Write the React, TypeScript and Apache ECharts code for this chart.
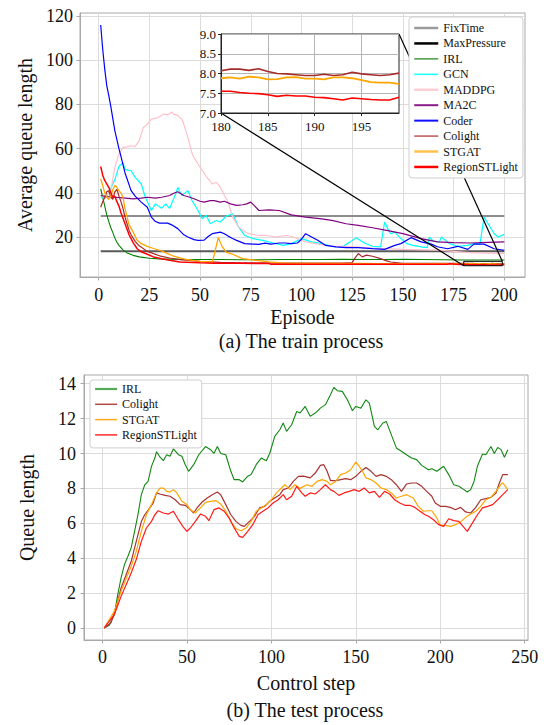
import React, { useEffect, useRef } from "react";
import * as echarts from "echarts";

const FONT = "Liberation Serif";

// ---------- (a) train process ----------
const trainXTicks = [0, 25, 50, 75, 100, 125, 150, 175, 200];
const trainYTicks = [20, 40, 60, 80, 100, 120];

const fixTime = [[1, 29.5], [200, 29.5]];
const maxPressure = [[1, 13.6], [200, 13.6]];
const irlTrain = [[1, 41.8], [2, 38], [3, 34], [4, 30], [5, 27], [6, 24.2], [7, 22], [8, 19.5], [9, 17.6], [10, 16.2], [12, 14.2], [14, 12.8], [17, 11.7], [20, 11], [25, 10.4], [30, 10.1], [40, 9.9], [50, 9.8], [60, 9.8], [70, 9.7], [80, 9.7], [90, 9.8], [100, 9.8], [110, 9.8], [120, 9.9], [130, 9.8], [140, 9.8], [150, 9.9], [160, 9.8], [170, 9.7], [180, 9.6], [190, 9.6], [200, 9.6]];
const gcnTrain = [[1, 38], [3, 37.5], [5, 40], [8, 46], [10, 52], [12, 53.6], [13, 50.6], [16, 50], [18, 47], [21, 44], [23, 38], [26, 32], [28, 35], [31, 33], [33, 35], [35, 33], [38, 39.6], [39, 42.5], [41, 38.8], [44, 41], [46, 36.5], [49, 32], [51, 28.3], [53, 29.8], [55, 26], [58, 27.5], [60, 26.8], [63, 29.5], [66, 30.5], [69, 24.5], [72, 20.7], [76, 19.3], [81, 18.5], [86, 17.3], [91, 16.2], [95, 17], [100, 19.3], [105, 17.8], [110, 17], [115, 15.8], [120, 15.5], [124, 17.8], [127, 19.7], [131, 17.3], [135, 15.8], [139, 15.5], [141, 26.8], [143, 23], [144, 21.5], [146, 22.2], [149, 19.3], [152, 17], [155, 16.2], [159, 15.5], [162, 15.2], [163, 20], [165, 18.1], [168, 17.8], [169, 20], [173, 17], [177, 15.8], [182, 16.2], [185, 17], [188, 16.8], [190, 29], [192, 26], [195, 21.5], [197, 20], [200, 21.2]];
const maddpgTrain = [[1, 38], [4, 39], [6, 41], [8, 51.5], [10, 57.6], [12, 60.6], [14, 60.8], [16, 61.3], [18, 61], [20, 63.6], [22, 69.6], [24, 71], [26, 73.4], [29, 74], [32, 75.6], [34, 75.4], [35, 75.8], [36, 76.6], [37, 75.5], [39, 75.2], [40, 74], [41, 73.4], [42, 71], [44, 65], [46, 58], [47, 56], [50, 51.6], [53, 47.5], [56, 44], [58, 44.8], [60, 42.5], [62, 38.8], [64, 35.5], [66, 29], [69, 24.5], [72, 22.5], [74, 21.5], [79, 20.7], [83, 20.7], [87, 20], [93, 20.7], [96, 20], [102, 17.8], [109, 16.7], [115, 15.8], [122, 15.8], [135, 15], [150, 14.4], [167, 14.1], [183, 12.9], [200, 12.5]];
const ma2cTrain = [[1, 38.8], [4, 38.3], [8, 38], [12, 37.7], [17, 37.3], [21, 37.6], [24, 38], [28, 37.6], [31, 38], [35, 38.8], [37, 39.8], [39, 40.5], [42, 38.8], [45, 38], [47, 37.3], [50, 36.2], [52, 35.8], [55, 36.5], [57, 36.5], [60, 35.8], [62, 36.2], [65, 35], [68, 34.3], [71, 34.6], [73, 35], [75, 35.8], [77, 34], [79, 32], [84, 32.3], [89, 32], [95, 30], [102, 29], [109, 28.3], [115, 27.5], [122, 26], [128, 25.3], [135, 24.2], [142, 23], [150, 21.5], [159, 19.3], [167, 17.8], [175, 17.5], [183, 17.3], [192, 17.6], [200, 17.8]];
const coderTrain = [[1, 116], [2, 105], [3, 96], [4, 88.5], [5, 84], [6, 79], [8, 68], [10, 60], [11, 56.5], [13, 49], [16, 41], [18, 38.5], [21, 35.8], [24, 33.5], [26, 29], [28, 27], [30, 26.3], [34, 26.3], [36, 25.5], [39, 23.8], [42, 21], [44, 20], [47, 18.8], [49, 18.5], [52, 18.6], [54, 20.2], [56, 21.5], [58, 21.9], [60, 22.2], [62, 21.5], [64, 20.3], [66, 19.3], [68, 18.5], [72, 17], [76, 16.8], [79, 16.7], [82, 17.2], [85, 16.8], [89, 17.3], [92, 17.3], [95, 17], [98, 17.3], [100, 19], [102, 21.5], [105, 20], [108, 18.5], [112, 16.2], [117, 15.5], [122, 15.2], [128, 15.2], [135, 14.7], [141, 14.4], [146, 16.2], [149, 17], [154, 19.7], [159, 17.8], [164, 16.8], [167, 15.6], [172, 14.7], [177, 15.8], [182, 14.4], [185, 16.8], [190, 16.8], [195, 14.7], [200, 14]];
const colightTrainHead = [[1, 33.5], [2, 36], [3, 38], [4, 40.5], [5, 41], [6, 38], [7, 37], [8, 40.5], [9, 41.5], [10, 38.5], [11, 36], [12, 33], [13, 29], [14, 26], [15, 23], [16, 21], [18, 18], [20, 16], [24, 13.5], [30, 11.5], [35, 10.5], [40, 9.8], [50, 9], [60, 8.5], [70, 8.3], [80, 8.3], [90, 8.2], [100, 8.2], [110, 8.2], [120, 8.2], [125, 8.4], [126, 10], [128, 12.5], [130, 11], [132, 11.8], [135, 11.3], [139, 10.2], [142, 9.2], [144, 8.7], [150, 8.1], [160, 8.1], [170, 8.1], [178, 8.1]];
const stgatTrainHead = [[1, 46.3], [2, 43.3], [3, 40], [4, 38], [5, 37], [6, 38.5], [7, 41.5], [8, 43.3], [9, 42.5], [10, 41], [11, 40], [12, 38], [13, 33], [14, 29], [15, 25.5], [17, 22.2], [19, 18.5], [21, 17], [24, 15.8], [27, 14.8], [31, 13.7], [34, 12.5], [37, 11.3], [41, 10.3], [44, 9.7], [50, 9], [56, 8.7], [57, 12], [58, 16], [59, 19.8], [60, 17.5], [61, 15.5], [63, 13], [66, 12.2], [71, 10.2], [77, 9.5], [84, 8.7], [90, 8.3], [100, 8.1], [110, 8], [120, 8], [130, 8], [140, 7.9], [150, 7.9], [160, 7.9], [170, 7.9], [178, 7.9]];
const regionTrainHead = [[1, 51.9], [2, 48], [3, 45.6], [4, 44], [5, 42.5], [6, 40], [7, 38], [8, 38.5], [9, 36], [10, 34], [11, 31], [12, 28.5], [13, 26], [14, 23.5], [15, 21], [16, 19.3], [17, 17.5], [19, 14.7], [21, 13.3], [24, 12.2], [27, 11], [31, 10.2], [35, 9.5], [40, 8.7], [50, 8.3], [57, 8.1], [70, 8.1], [84, 8], [85, 7.7], [100, 7.7], [120, 7.7], [140, 7.7], [160, 7.7], [172, 7.7], [173, 7.9], [178, 7.6]];

// zoomed region of the train process (inset)
const insetEpisodes = [180, 181, 182, 183, 184, 185, 186, 187, 188, 189, 190, 191, 192, 193, 194, 195, 196, 197, 198, 199];
const colightInset = [8.07, 8.11, 8.11, 8.08, 8.12, 8.05, 8.0, 7.99, 7.97, 7.95, 7.95, 7.98, 7.95, 7.97, 8.03, 7.99, 7.97, 7.95, 7.97, 8.01];
const stgatInset = [7.88, 7.9, 7.87, 7.92, 7.9, 7.85, 7.86, 7.9, 7.91, 7.87, 7.87, 7.85, 7.9, 7.9, 7.88, 7.83, 7.78, 7.77, 7.77, 7.74];
const regionInset = [7.55, 7.55, 7.52, 7.5, 7.49, 7.46, 7.42, 7.45, 7.43, 7.43, 7.4, 7.39, 7.36, 7.33, 7.38, 7.36, 7.34, 7.33, 7.33, 7.4];
const insetXTicks = [180, 185, 190, 195];
const colightLast = [[200, 8.02]];
const stgatLast = [[200, 7.74]];
const regionLast = [[200, 7.42]];

// ---------- (b) test process ----------
const testXTicks = [0, 50, 100, 150, 200, 250];
const testYTicks = [0, 2, 4, 6, 8, 10, 12, 14];
const irlTest = [[1, 0], [4, 0.15], [7, 0.76], [9, 1.9], [11, 2.87], [13, 3.63], [15, 4.1], [17, 4.6], [19, 5.54], [21, 6.5], [23, 7.64], [25, 8.2], [27, 8.4], [29, 9.26], [31, 9.74], [32, 10.1], [34, 9.8], [36, 9.59], [38, 9.93], [40, 9.84], [42, 10.27], [45, 9.93], [47, 9.84], [49, 9.36], [51, 8.98], [54, 9.36], [57, 9.93], [61, 10.4], [64, 10.22], [66, 10.0], [68, 10.4], [70, 10.0], [73, 9.93], [76, 8.98], [78, 8.5], [81, 8.5], [83, 8.37], [86, 8.7], [88, 8.79], [91, 9.36], [94, 9.74], [97, 9.59], [99, 10.0], [102, 10.98], [105, 11.36], [107, 11.75], [109, 11.27], [112, 11.65], [115, 12.41], [117, 12.32], [120, 12.7], [123, 12.13], [126, 12.32], [129, 12.6], [132, 12.8], [135, 13.37], [137, 13.79], [139, 13.6], [142, 13.56], [145, 13.08], [148, 12.45], [150, 12.7], [153, 12.6], [156, 13.08], [158, 12.89], [161, 11.55], [163, 11.36], [166, 11.75], [168, 11.84], [171, 11.08], [174, 10.32], [177, 10.13], [180, 9.93], [183, 9.74], [186, 9.65], [189, 9.32], [193, 9.07], [195, 9.13], [198, 8.98], [202, 9.27], [205, 8.79], [208, 8.21], [211, 8.12], [214, 7.93], [216, 7.79], [218, 7.93], [220, 8.4], [222, 9.27], [225, 9.97], [227, 9.93], [230, 10.4], [232, 10.0], [234, 10.35], [236, 10.22], [238, 9.78], [240, 10.22]];
const colightTest = [[1, 0], [5, 0.3], [8, 1.15], [11, 2.29], [14, 3.05], [17, 3.82], [20, 4.96], [23, 6.1], [25, 6.49], [28, 6.88], [30, 7.16], [32, 7.74], [34, 7.68], [37, 7.6], [40, 7.55], [43, 7.35], [46, 7.07], [49, 7.03], [51, 6.88], [54, 6.59], [56, 6.88], [59, 7.22], [62, 7.45], [65, 7.64], [68, 7.79], [70, 7.64], [73, 7.07], [76, 6.49], [79, 6.11], [82, 5.88], [84, 5.82], [87, 6.11], [90, 6.4], [93, 6.88], [96, 6.97], [99, 7.26], [102, 7.45], [105, 7.64], [107, 7.93], [110, 8.02], [113, 8.4], [116, 8.69], [119, 8.7], [123, 8.6], [126, 8.88], [129, 9.32], [131, 9.36], [133, 8.98], [135, 8.45], [138, 8.45], [141, 8.5], [144, 8.56], [147, 8.5], [150, 8.69], [153, 8.98], [156, 9.2], [159, 8.98], [162, 8.69], [165, 8.79], [168, 8.69], [171, 8.5], [174, 8.21], [177, 7.83], [180, 8.25], [183, 8.31], [186, 8.31], [189, 8.12], [192, 7.83], [195, 7.55], [197, 7.16], [200, 6.97], [203, 6.97], [206, 6.91], [209, 6.78], [212, 6.91], [215, 6.65], [218, 6.59], [221, 6.91], [224, 7.35], [227, 7.41], [230, 7.49], [233, 7.74], [235, 8.31], [237, 8.79], [240, 8.79]];
const stgatTest = [[1, 0], [7, 0.95], [11, 2.1], [14, 2.83], [17, 3.54], [20, 4.39], [23, 5.54], [26, 6.49], [29, 7.07], [32, 7.74], [34, 8.02], [36, 8.02], [38, 7.83], [40, 7.79], [42, 7.93], [44, 7.74], [47, 7.26], [50, 7.07], [52, 6.78], [55, 6.59], [58, 6.88], [61, 7.2], [64, 7.26], [67, 7.3], [70, 7.11], [73, 6.69], [76, 6.11], [79, 5.69], [82, 5.57], [85, 5.73], [88, 6.11], [91, 6.69], [94, 6.88], [97, 7.07], [100, 7.35], [103, 7.74], [106, 8.02], [108, 8.21], [111, 7.93], [114, 8.21], [117, 8.0], [121, 8.21], [124, 8.12], [127, 8.4], [130, 8.5], [133, 8.4], [135, 8.21], [138, 8.4], [141, 8.79], [144, 8.88], [147, 9.07], [150, 9.51], [152, 9.27], [154, 8.98], [156, 8.6], [159, 8.5], [162, 8.31], [165, 8.02], [168, 7.93], [171, 7.74], [174, 7.45], [177, 7.55], [180, 7.64], [184, 7.45], [187, 6.97], [190, 6.69], [193, 6.72], [195, 6.72], [198, 6.3], [200, 5.88], [203, 5.88], [206, 5.82], [209, 5.92], [212, 6.07], [215, 6.34], [218, 6.53], [221, 6.69], [224, 6.97], [227, 7.35], [230, 7.49], [233, 7.83], [236, 8.25], [237, 8.31], [240, 7.93]];
const regionTest = [[1, 0], [7, 0.76], [11, 1.81], [14, 2.48], [17, 3.15], [20, 3.92], [23, 4.96], [26, 5.73], [29, 6.11], [31, 6.49], [33, 6.72], [36, 6.59], [39, 6.53], [42, 6.69], [45, 6.2], [48, 5.76], [50, 5.54], [52, 5.73], [55, 6.11], [58, 6.53], [61, 6.4], [63, 6.15], [66, 6.78], [69, 6.88], [72, 6.69], [75, 6.3], [78, 5.73], [81, 5.25], [83, 5.19], [86, 5.54], [89, 5.92], [92, 6.49], [95, 6.69], [98, 6.88], [101, 7.16], [104, 7.35], [107, 7.64], [109, 7.35], [112, 7.55], [115, 8.12], [118, 7.74], [120, 7.55], [123, 7.74], [126, 7.68], [129, 7.93], [132, 8.21], [135, 7.93], [137, 7.83], [140, 7.6], [143, 7.74], [146, 7.83], [149, 7.93], [152, 7.83], [155, 8.02], [158, 7.74], [161, 7.83], [164, 7.49], [167, 7.83], [170, 7.68], [173, 7.35], [176, 7.16], [179, 7.03], [182, 7.03], [185, 6.91], [188, 6.69], [191, 6.49], [193, 6.4], [196, 6.2], [199, 5.92], [202, 5.82], [205, 6.26], [208, 6.15], [211, 6.11], [214, 5.76], [216, 5.54], [219, 6.01], [222, 6.49], [225, 6.88], [228, 6.97], [231, 7.07], [234, 7.35], [237, 7.64], [240, 7.93]];

const zip = (xs: number[], ys: number[]) => xs.map((x, i) => [x, ys[i]]);

export default function App() {
  const ref = useRef<HTMLDivElement>(null);

  useEffect(() => {
    if (!ref.current) return;
    const chart = echarts.init(ref.current, undefined, { renderer: "svg" });

    const colightTrain = [...colightTrainHead, ...zip(insetEpisodes, colightInset), ...colightLast];
    const stgatTrain = [...stgatTrainHead, ...zip(insetEpisodes, stgatInset), ...stgatLast];
    const regionTrain = [...regionTrainHead, ...zip(insetEpisodes, regionInset), ...regionLast];

    const line = (name: string, data: number[][], color: string, width: number, axis: number, z = 2) => ({
      type: "line",
      name,
      data,
      xAxisIndex: axis,
      yAxisIndex: axis,
      symbol: "none",
      showSymbol: false,
      silent: true,
      z,
      lineStyle: { color, width },
      itemStyle: { color },
      emphasis: { disabled: true },
    });

    const labelStyle = { fontFamily: FONT, color: "#111" };
    const gridLine = { show: true, lineStyle: { color: "#dcdcdc", width: 1 } };

    const mainAxisCommon = {
      type: "value",
      axisLine: { show: true, onZero: false, lineStyle: { color: "#a8a8a8" } },
      axisTick: { show: true, length: 3.5, lineStyle: { color: "#a8a8a8" } },
      splitLine: gridLine,
      nameLocation: "middle",
      nameTextStyle: { fontFamily: FONT, fontSize: 20, color: "#111" },
    };

    const legendItem = (name: string, color: string, width: number) => ({
      name,
      lineStyle: { color, width, opacity: 1 },
      itemStyle: { color: "rgba(0,0,0,0)", borderWidth: 0, opacity: 0 },
    });

    const option: any = {
      animation: false,
      textStyle: { fontFamily: FONT },
      grid: [
        { left: 80, top: 13, width: 445, height: 264, show: true, borderColor: "#a8a8a8", borderWidth: 1, backgroundColor: "#fff" },
        { left: 221, top: 34, width: 178, height: 79, show: true, borderColor: "#222", borderWidth: 1, backgroundColor: "#fff", z: 5 },
        { left: 84, top: 375, width: 444, height: 265, show: true, borderColor: "#a8a8a8", borderWidth: 1, backgroundColor: "#fff" },
      ],
      xAxis: [
        {
          ...mainAxisCommon,
          gridIndex: 0,
          min: -9.2,
          max: 210.2,
          name: "Episode",
          nameGap: 30,
          axisTick: { ...mainAxisCommon.axisTick, customValues: trainXTicks },
          axisLabel: { ...labelStyle, fontSize: 18, margin: 9, customValues: trainXTicks },
        },
        {
          type: "value",
          gridIndex: 1,
          min: 180,
          max: 199,
          z: 6,
          axisLine: { show: true, onZero: false, lineStyle: { color: "#222" } },
          axisTick: { show: true, length: 3, lineStyle: { color: "#222" }, customValues: insetXTicks },
          axisLabel: { ...labelStyle, fontSize: 13, margin: 7, customValues: insetXTicks },
          splitLine: { show: true, lineStyle: { color: "#b5b5b5" } },
        },
        {
          ...mainAxisCommon,
          gridIndex: 2,
          min: -10.95,
          max: 251.95,
          name: "Control step",
          nameGap: 33,
          axisTick: { ...mainAxisCommon.axisTick, customValues: testXTicks },
          axisLabel: { ...labelStyle, fontSize: 18, margin: 8, customValues: testXTicks },
        },
      ],
      yAxis: [
        {
          ...mainAxisCommon,
          gridIndex: 0,
          min: 1.9,
          max: 121.4,
          name: "Average queue length",
          nameGap: 43,
          axisTick: { ...mainAxisCommon.axisTick, customValues: trainYTicks },
          axisLabel: { ...labelStyle, fontSize: 18, margin: 7, customValues: trainYTicks },
        },
        {
          type: "value",
          gridIndex: 1,
          min: 7,
          max: 9,
          interval: 0.5,
          z: 6,
          axisLine: { show: true, onZero: false, lineStyle: { color: "#222" } },
          axisTick: { show: true, length: 3, lineStyle: { color: "#222" } },
          axisLabel: { ...labelStyle, fontSize: 13, margin: 5, formatter: (v: number) => v.toFixed(1) },
          splitLine: { show: true, lineStyle: { color: "#b5b5b5" } },
        },
        {
          ...mainAxisCommon,
          gridIndex: 2,
          min: -0.69,
          max: 14.5,
          name: "Queue length",
          nameGap: 47,
          axisTick: { ...mainAxisCommon.axisTick, customValues: testYTicks },
          axisLabel: { ...labelStyle, fontSize: 18, margin: 8, customValues: testYTicks },
        },
      ],
      legend: [
        {
          orient: "vertical",
          left: 409,
          top: 17,
          itemWidth: 24,
          itemHeight: 10,
          itemGap: 1.44,
          padding: [4, 5, 4, 4],
          backgroundColor: "#fff",
          borderColor: "#cfcfcf",
          borderWidth: 1,
          borderRadius: 3,
          selectedMode: false,
          textStyle: { fontFamily: FONT, fontSize: 12, color: "#111", lineHeight: 14 },
          data: [
            legendItem("FixTime", "#9a9a9a", 2.5),
            legendItem("MaxPressure", "#000000", 2.5),
            legendItem("IRL", "#2a8a2a", 1.3),
            legendItem("GCN", "#22ffff", 1.6),
            legendItem("MADDPG", "#ffcdd6", 2.5),
            legendItem("MA2C", "#8b1a8b", 2),
            legendItem("Coder", "#1010ff", 2),
            legendItem("Colight", "#bb5555", 1.5),
            legendItem("STGAT", "#ffc24d", 2.5),
            legendItem("RegionSTLight", "#ff0000", 2.5),
          ],
        },
        {
          orient: "vertical",
          left: 90,
          top: 380,
          itemWidth: 22,
          itemHeight: 10,
          itemGap: 1.3,
          padding: [2, 5, 6, 4],
          backgroundColor: "#fff",
          borderColor: "#cfcfcf",
          borderWidth: 1,
          borderRadius: 3,
          selectedMode: false,
          textStyle: { fontFamily: FONT, fontSize: 12, color: "#111", lineHeight: 14 },
          data: [
            legendItem("IRL", "#55aa55", 2.2),
            legendItem("Colight", "#b04848", 1.5),
            legendItem("STGAT", "#ffaa22", 1.5),
            legendItem("RegionSTLight", "#ff2a2a", 1.5),
          ],
        },
      ],
      series: [
        line("FixTime", fixTime, "#8c8c8c", 2, 0),
        line("MaxPressure", maxPressure, "#5a5a5a", 2, 0),
        line("IRL", irlTrain, "#008000", 1.1, 0),
        line("GCN", gcnTrain, "#00ffff", 1.2, 0),
        line("MADDPG", maddpgTrain, "#ffc0cb", 1.2, 0),
        line("MA2C", ma2cTrain, "#800080", 1.2, 0),
        line("Coder", coderTrain, "#0000ff", 1.2, 0),
        line("Colight", colightTrain, "#a52a2a", 1.2, 0),
        line("STGAT", stgatTrain, "#ffa500", 1.3, 0),
        line("RegionSTLight", regionTrain, "#ff0000", 1.5, 0),
        line("Colight inset", zip(insetEpisodes, colightInset), "#a52a2a", 1.6, 1, 7),
        line("STGAT inset", zip(insetEpisodes, stgatInset), "#ffa500", 1.8, 1, 7),
        line("RegionSTLight inset", zip(insetEpisodes, regionInset), "#ff0000", 1.6, 1, 7),
        line("IRL", irlTest, "#118811", 1.1, 2),
        line("Colight", colightTest, "#a83232", 1.2, 2),
        line("STGAT", stgatTest, "#ffa500", 1.2, 2),
        line("RegionSTLight", regionTest, "#ff1a1a", 1.2, 2),
      ],
    };

    chart.setOption(option);

    const px = (g: number, v: number[]) => chart.convertToPixel({ gridIndex: g } as any, v) as number[];
    const rA = px(0, [180, 9]);
    const rB = px(0, [199, 7]);
    const iBL = px(1, [180, 7]);
    const iTR = px(1, [199, 9]);
    const mBL = px(0, [180, 7]);
    const mTR = px(0, [199, 9]);

    chart.setOption({
      graphic: [
        {
          type: "rect",
          z: 3,
          silent: true,
          shape: { x: rA[0], y: rA[1], width: rB[0] - rA[0], height: rB[1] - rA[1] },
          style: { fill: "none", stroke: "#000", lineWidth: 1 },
        },
        {
          type: "line",
          z: 3,
          silent: true,
          shape: { x1: iBL[0], y1: iBL[1], x2: mBL[0], y2: mBL[1] },
          style: { stroke: "#000", lineWidth: 1.2 },
        },
        {
          type: "line",
          z: 3,
          silent: true,
          shape: { x1: iTR[0], y1: iTR[1], x2: mTR[0], y2: mTR[1] },
          style: { stroke: "#000", lineWidth: 1.2 },
        },
        {
          type: "text",
          x: 301,
          y: 341,
          silent: true,
          style: { text: "(a) The train process", fontFamily: FONT, fontSize: 20, fill: "#111", align: "center", verticalAlign: "middle" },
        },
        {
          type: "text",
          x: 305,
          y: 710,
          silent: true,
          style: { text: "(b) The test process", fontFamily: FONT, fontSize: 20, fill: "#111", align: "center", verticalAlign: "middle" },
        },
      ],
    });

    return () => chart.dispose();
  }, []);

  return (
    <div
      ref={ref}
      style={{ position: "absolute", left: 0, top: 0, width: 546, height: 725, background: "#fff" }}
    />
  );
}
